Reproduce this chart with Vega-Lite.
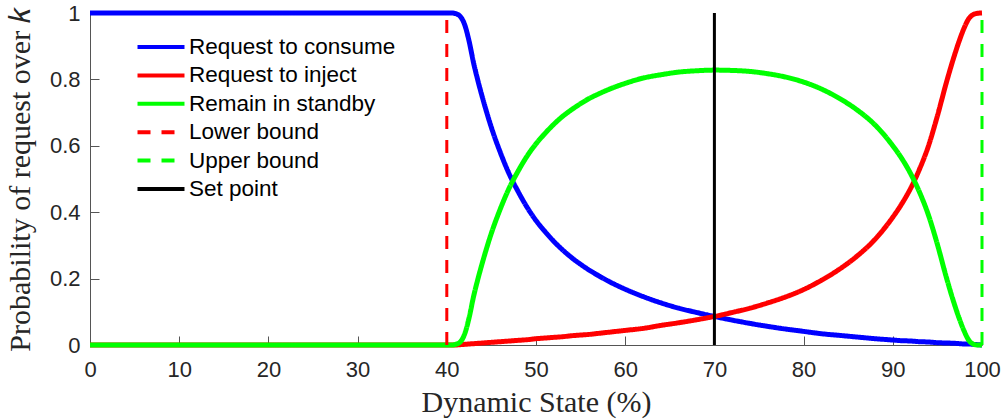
{
  "$schema": "https://vega.github.io/schema/vega-lite/v6.json",
  "width": 892,
  "height": 332,
  "autosize": {"type": "none"},
  "padding": {"left": 90, "top": 13, "right": 26, "bottom": 74},
  "background": "white",
  "config": {
    "view": {"stroke": null},
    "axis": {
      "grid": false,
      "domainColor": "#555555",
      "domainWidth": 1,
      "tickColor": "#555555",
      "tickWidth": 1,
      "tickSize": -9,
      "labelFlush": false,
      "labelOverlap": false,
      "labelFont": "Liberation Sans",
      "labelFontSize": 22,
      "labelColor": "#262626",
      "titleFont": "Liberation Serif",
      "titleFontSize": 30,
      "titleFontWeight": "normal",
      "titleColor": "#262626"
    },
    "legend": {
      "orient": "none",
      "legendX": 57,
      "legendY": 20,
      "padding": 0,
      "symbolType": "M-2,0H2",
      "symbolSize": 552,
      "labelFont": "Liberation Sans",
      "labelFontSize": 22.5,
      "labelColor": "black",
      "labelLimit": 400,
      "labelOffset": 14,
      "rowPadding": 2.4,
      "symbolStrokeWidth": 4
    }
  },
  "layer": [
    {
      "data": {
        "values": [
          {"s": 0, "Request to consume": 1, "Request to inject": 0, "Remain in standby": 0},
          {"s": 40, "Request to consume": 1, "Request to inject": 0, "Remain in standby": 0},
          {"s": 40.5, "Request to consume": 1, "Request to inject": 0, "Remain in standby": 0},
          {"s": 41, "Request to consume": 0.998, "Request to inject": 0, "Remain in standby": 0.002},
          {"s": 41.5, "Request to consume": 0.99, "Request to inject": 0.001, "Remain in standby": 0.009},
          {"s": 42, "Request to consume": 0.965, "Request to inject": 0.002, "Remain in standby": 0.033},
          {"s": 42.5, "Request to consume": 0.915, "Request to inject": 0.003, "Remain in standby": 0.082},
          {"s": 43, "Request to consume": 0.85, "Request to inject": 0.004, "Remain in standby": 0.146},
          {"s": 43.5, "Request to consume": 0.795, "Request to inject": 0.005, "Remain in standby": 0.2},
          {"s": 44, "Request to consume": 0.745, "Request to inject": 0.006, "Remain in standby": 0.249},
          {"s": 45, "Request to consume": 0.655, "Request to inject": 0.008, "Remain in standby": 0.337},
          {"s": 46, "Request to consume": 0.58, "Request to inject": 0.01, "Remain in standby": 0.41},
          {"s": 47, "Request to consume": 0.515, "Request to inject": 0.012, "Remain in standby": 0.473},
          {"s": 48, "Request to consume": 0.462, "Request to inject": 0.014, "Remain in standby": 0.524},
          {"s": 49, "Request to consume": 0.415, "Request to inject": 0.016, "Remain in standby": 0.569},
          {"s": 50, "Request to consume": 0.375, "Request to inject": 0.019, "Remain in standby": 0.606},
          {"s": 51, "Request to consume": 0.342, "Request to inject": 0.021, "Remain in standby": 0.637},
          {"s": 52, "Request to consume": 0.312, "Request to inject": 0.023, "Remain in standby": 0.665},
          {"s": 53, "Request to consume": 0.286, "Request to inject": 0.025, "Remain in standby": 0.689},
          {"s": 54, "Request to consume": 0.263, "Request to inject": 0.028, "Remain in standby": 0.709},
          {"s": 55, "Request to consume": 0.243, "Request to inject": 0.03, "Remain in standby": 0.727},
          {"s": 56, "Request to consume": 0.225, "Request to inject": 0.032, "Remain in standby": 0.743},
          {"s": 57, "Request to consume": 0.209, "Request to inject": 0.035, "Remain in standby": 0.756},
          {"s": 58, "Request to consume": 0.194, "Request to inject": 0.038, "Remain in standby": 0.768},
          {"s": 60, "Request to consume": 0.168, "Request to inject": 0.044, "Remain in standby": 0.788},
          {"s": 62, "Request to consume": 0.146, "Request to inject": 0.05, "Remain in standby": 0.804},
          {"s": 64, "Request to consume": 0.127, "Request to inject": 0.059, "Remain in standby": 0.814},
          {"s": 66, "Request to consume": 0.111, "Request to inject": 0.067, "Remain in standby": 0.822},
          {"s": 68, "Request to consume": 0.098, "Request to inject": 0.076, "Remain in standby": 0.826},
          {"s": 70, "Request to consume": 0.086, "Request to inject": 0.086, "Remain in standby": 0.828},
          {"s": 72, "Request to consume": 0.075, "Request to inject": 0.098, "Remain in standby": 0.827},
          {"s": 74, "Request to consume": 0.065, "Request to inject": 0.111, "Remain in standby": 0.824},
          {"s": 76, "Request to consume": 0.056, "Request to inject": 0.127, "Remain in standby": 0.817},
          {"s": 78, "Request to consume": 0.048, "Request to inject": 0.145, "Remain in standby": 0.807},
          {"s": 80, "Request to consume": 0.041, "Request to inject": 0.167, "Remain in standby": 0.792},
          {"s": 82, "Request to consume": 0.034, "Request to inject": 0.195, "Remain in standby": 0.771},
          {"s": 84, "Request to consume": 0.029, "Request to inject": 0.228, "Remain in standby": 0.743},
          {"s": 86, "Request to consume": 0.024, "Request to inject": 0.268, "Remain in standby": 0.708},
          {"s": 88, "Request to consume": 0.019, "Request to inject": 0.318, "Remain in standby": 0.663},
          {"s": 90, "Request to consume": 0.015, "Request to inject": 0.385, "Remain in standby": 0.6},
          {"s": 91, "Request to consume": 0.013, "Request to inject": 0.425, "Remain in standby": 0.562},
          {"s": 92, "Request to consume": 0.012, "Request to inject": 0.472, "Remain in standby": 0.516},
          {"s": 93, "Request to consume": 0.01, "Request to inject": 0.53, "Remain in standby": 0.46},
          {"s": 94, "Request to consume": 0.009, "Request to inject": 0.6, "Remain in standby": 0.391},
          {"s": 95, "Request to consume": 0.007, "Request to inject": 0.69, "Remain in standby": 0.303},
          {"s": 96, "Request to consume": 0.006, "Request to inject": 0.79, "Remain in standby": 0.204},
          {"s": 97, "Request to consume": 0.005, "Request to inject": 0.88, "Remain in standby": 0.115},
          {"s": 97.5, "Request to consume": 0.004, "Request to inject": 0.92, "Remain in standby": 0.076},
          {"s": 98, "Request to consume": 0.003, "Request to inject": 0.955, "Remain in standby": 0.042},
          {"s": 98.5, "Request to consume": 0.003, "Request to inject": 0.982, "Remain in standby": 0.015},
          {"s": 99, "Request to consume": 0.002, "Request to inject": 0.995, "Remain in standby": 0.003},
          {"s": 99.5, "Request to consume": 0.001, "Request to inject": 0.999, "Remain in standby": 0},
          {"s": 100, "Request to consume": 0, "Request to inject": 1, "Remain in standby": 0}
        ]
      },
      "transform": [
        {"fold": ["Request to consume", "Request to inject", "Remain in standby"], "as": ["series", "p"]}
      ],
      "mark": {"type": "line", "strokeWidth": 5, "interpolate": "monotone"},
      "encoding": {
        "x": {
          "field": "s",
          "type": "quantitative",
          "scale": {"domain": [0, 100], "nice": false},
          "axis": {"values": [0, 10, 20, 30, 40, 50, 60, 70, 80, 90, 100], "labelPadding": 23, "title": "Dynamic State (%)", "titlePadding": 7}
        },
        "y": {
          "field": "p",
          "type": "quantitative",
          "scale": {"domain": [0, 1], "nice": false},
          "axis": {"values": [0, 0.2, 0.4, 0.6, 0.8, 1], "format": "~g", "labelPadding": 19, "title": "Probability of request over 𝑘", "titlePadding": 14}
        },
        "color": {
          "field": "series",
          "type": "nominal",
          "scale": {
            "domain": ["Request to consume", "Request to inject", "Remain in standby", "Lower bound", "Upper bound", "Set point"],
            "range": ["#0000ff", "#ff0000", "#00ff00", "#ff0000", "#00ff00", "#000000"]
          },
          "legend": {"title": null}
        },
        "strokeDash": {
          "field": "series",
          "type": "nominal",
          "scale": {
            "domain": ["Request to consume", "Request to inject", "Remain in standby", "Lower bound", "Upper bound", "Set point"],
            "range": [[1, 0], [1, 0], [1, 0], [13, 11], [13, 11], [1, 0]]
          },
          "legend": {"title": null}
        }
      }
    },
    {
      "data": {
        "values": [
          {"series": "Lower bound", "s": 40},
          {"series": "Upper bound", "s": 100},
          {"series": "Set point", "s": 70}
        ]
      },
      "mark": {"type": "rule", "strokeWidth": 3},
      "encoding": {
        "x": {"field": "s", "type": "quantitative"},
        "y": {"datum": 0},
        "y2": {"datum": 1},
        "color": {"field": "series", "type": "nominal"},
        "strokeDash": {"field": "series", "type": "nominal"}
      }
    }
  ]
}
